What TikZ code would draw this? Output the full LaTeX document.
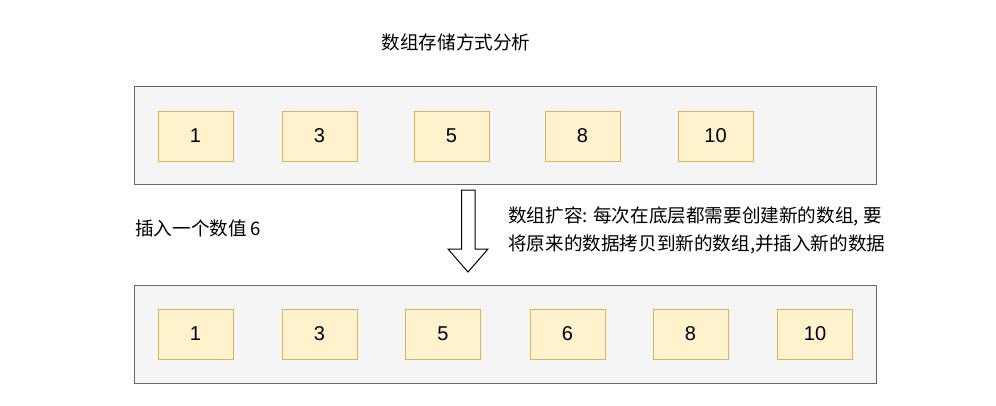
\documentclass[tikz,border=0pt]{standalone}
\usepackage{fontspec}
\setmainfont{Liberation Sans}
\newfontfamily\cjk{Noto Sans CJK SC}
\usepackage{xcolor}
\usepackage{tikz}
\usetikzlibrary{positioning,calc}
\definecolor{arrfill}{HTML}{F5F5F5}
\definecolor{arrline}{HTML}{666666}
\definecolor{cellfill}{HTML}{FFF2CC}
\definecolor{cellline}{HTML}{D6B656}

\begin{document}
\begin{tikzpicture}[x=1pt,y=-1pt,
    array/.style={draw=arrline,fill=arrfill,line width=1pt,minimum width=742pt,minimum height=98pt,inner sep=0pt},
    cell/.style={draw=cellline,fill=cellfill,line width=1pt,minimum width=75pt,minimum height=50pt,inner sep=0pt,font=\fontsize{20}{24}\selectfont},
    label/.style={font=\cjk\fontsize{18.6}{28}\selectfont,inner sep=0pt}]
    \useasboundingbox (0,0) rectangle (996,405);
    \node[label] (title) at (456,42) {数组存储方式分析};

    % Old array
    \node[array] (old) at (505.75,135.75) {};
    \node[cell] (o1) at (195.5,136) {1};
    \node[cell] (o3) at (319.5,136) {3};
    \node[cell] (o5) at (451.5,136) {5};
    \node[cell] (o8) at (582.5,136) {8};
    \node[cell] (o10) at (715.5,136) {10};

    % Expansion arrow
    \draw[fill=white,line width=1pt] (461.5,190) -- (475,190) -- (475,249) -- (488,249)
        -- (468,272) -- (448,249) -- (461.5,249) -- cycle;
    \node[label,anchor=west,align=left] (grow) at (508,230) {数组扩容: 每次在底层都需要创建新的数组, 要\\将原来的数据拷贝到新的数组,并插入新的数据};
    \node[label,anchor=west] (insert) at (135,228) {插入一个数值 6};

    % New array
    \node[array] (new) at (505.5,334.5) {};
    \node[cell] (n1) at (195.5,334) {1};
    \node[cell] (n3) at (319.5,334) {3};
    \node[cell] (n5) at (443,334) {5};
    \node[cell] (n6) at (567.5,334) {6};
    \node[cell] (n8) at (690.5,334) {8};
    \node[cell] (n10) at (815,334) {10};
\end{tikzpicture}
\end{document}
